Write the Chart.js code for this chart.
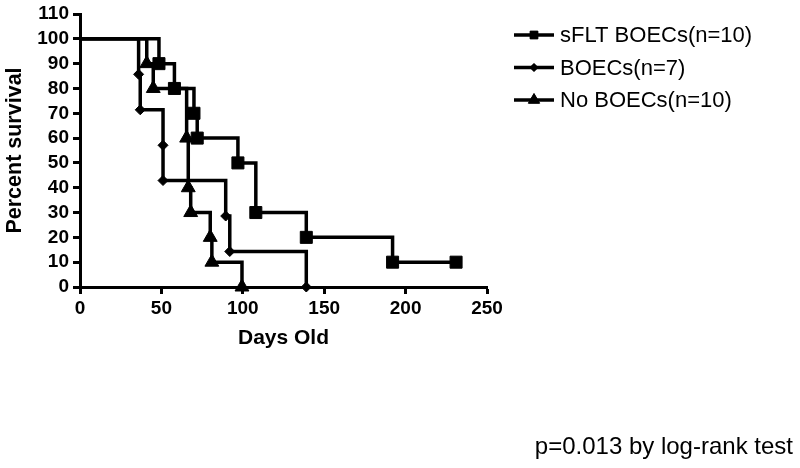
<!DOCTYPE html>
<html>
<head>
<meta charset="utf-8">
<script src="https://cdn.jsdelivr.net/npm/chart.js@4/dist/chart.umd.min.js"></script>
<style>
  html, body { margin: 0; padding: 0; background: #fff; }
  #wrap { width: 800px; height: 468px; }
</style>
</head>
<body>
<div id="wrap"><canvas id="survivalChart"></canvas></div>
<script>
// Kaplan-Meier steps: day of event, percent surviving after it
const sfltDays = [0, 48.5, 58, 70, 72, 97, 108, 139, 192, 231];
const sfltSurv = [100, 90, 80, 70, 60, 50, 30, 20, 10, 10];
const boecDays = [0, 36, 37, 51, 51, 89.5, 92, 139];
const boecSurv = [100, 85.7, 71.4, 57.1, 42.9, 28.6, 14.3, 0];
const noBoecDays = [0, 41, 45, 65.5, 66.5, 68, 80, 81, 99.5];
const noBoecSurv = [100, 90, 80, 60, 40, 30, 20, 10, 0];

const seriesNames = ['sFLT BOECs(n=10)', 'BOECs(n=7)', 'No BOECs(n=10)'];
const xTicks = [0, 50, 100, 150, 200, 250];
const yTicks = [0, 10, 20, 30, 40, 50, 60, 70, 80, 90, 100, 110];
const pValueText = 'p=0.013 by log-rank test';

const FONT = '"Liberation Sans", Arial, sans-serif';

function toPoints(days, surv) {
    return days.map((d, i) => ({ x: d, y: surv[i] }));
}

// no marker on the starting point at day 0
function markerSize(r) {
    return ctx => ctx.dataIndex === 0 ? 0 : r;
}

function makeSet(label, days, surv, style, r) {
    return {
        label: label,
        data: toPoints(days, surv),
        showLine: true,
        stepped: true,
        borderColor: '#000',
        borderWidth: 3.5,
        pointStyle: style,
        pointRadius: markerSize(r),
        pointHoverRadius: markerSize(r),
        pointBackgroundColor: '#000',
        pointBorderColor: '#000',
        pointBorderWidth: 1,
        clip: false
    };
}

const legendMarks = [
    { style: 'rect', r: 5.5 },
    { style: 'rectRot', r: 4 },
    { style: 'triangle', r: 6.5 }
];

// legend on the right and the p value at the bottom
const sideNotes = {
    id: 'sideNotes',
    afterDraw(chart) {
        const c = chart.ctx;
        c.save();
        c.fillStyle = '#000';
        c.strokeStyle = '#000';
        c.textBaseline = 'middle';
        c.textAlign = 'left';
        c.font = '22px ' + FONT;
        seriesNames.forEach((name, i) => {
            const y = 35 + i * 32.5;
            c.lineWidth = 3.5;
            c.beginPath();
            c.moveTo(514, y);
            c.lineTo(554, y);
            c.stroke();
            c.lineWidth = 1;
            Chart.helpers.drawPoint(c, { pointStyle: legendMarks[i].style, radius: legendMarks[i].r, rotation: 0, borderWidth: 1 }, 534, y);
            c.fill();
            c.fillText(name, 560, y + 1);
        });
        c.font = '24px ' + FONT;
        c.textAlign = 'right';
        c.fillText(pValueText, 793, 447);
        c.restore();
    }
};

const chart = new Chart(document.getElementById('survivalChart'), {
    type: 'scatter',
    data: {
        datasets: [
            makeSet(seriesNames[0], sfltDays, sfltSurv, 'rect', 8.5),
            makeSet(seriesNames[1], boecDays, boecSurv, 'rectRot', 5),
            makeSet(seriesNames[2], noBoecDays, noBoecSurv, 'triangle', 8)
        ]
    },
    options: {
        responsive: true,
        maintainAspectRatio: false,
        animation: false,
        layout: { padding: { top: 14, right: 313, bottom: 117, left: 0 } },
        plugins: {
            legend: { display: false },
            tooltip: { enabled: false }
        },
        scales: {
            x: {
                type: 'linear',
                min: 0,
                max: 250,
                afterBuildTicks: s => { s.ticks = xTicks.map(v => ({ value: v })); },
                afterFit: s => { s.height = 64; },
                ticks: { color: '#000', font: { family: FONT, size: 19, weight: 'bold' }, padding: 3, maxRotation: 0, autoSkip: false },
                grid: { drawOnChartArea: false, color: '#000', tickLength: 7, tickWidth: 3 },
                border: { color: '#000', width: 3 },
                title: { display: true, text: 'Days Old', color: '#000', font: { family: FONT, size: 21, weight: 'bold' }, padding: 0 }
            },
            y: {
                min: 0,
                max: 110,
                afterBuildTicks: s => { s.ticks = yTicks.map(v => ({ value: v })); },
                afterFit: s => { s.width = 80; },
                ticks: { color: '#000', font: { family: FONT, size: 19, weight: 'bold', lineHeight: 1 }, padding: 4, autoSkip: false },
                grid: { drawOnChartArea: false, color: '#000', tickLength: 7, tickWidth: 3 },
                border: { color: '#000', width: 3 },
                title: { display: true, text: 'Percent survival', color: '#000', font: { family: FONT, size: 21.5, weight: 'bold' }, padding: { top: 2, bottom: 0 } }
            }
        }
    },
    plugins: [sideNotes]
});
</script>
</body>
</html>
